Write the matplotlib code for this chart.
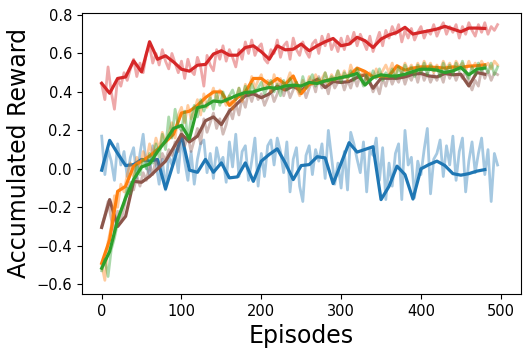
import matplotlib
matplotlib.use("Agg")
import matplotlib.pyplot as plt
import numpy as np

# episodes for the raw (faint) curves and for the averaged (bold) curves
raw_eps = np.arange(0, 500, 4)
avg_eps = np.arange(0, 490, 10)

blue_raw = [0.17, -0.03, 0.10, 0.04, -0.06, 0.13, 0.02, 0.09, -0.04, 0.06, 0.11, -0.05, 0.08, 0.18, 0.01, -0.03, 0.12, 0.03, -0.08, 0.05, -0.11, 0.07, 0.02, 0.10, -0.02,
            0.17, 0.04, -0.06, 0.09, -0.08, 0.05, 0.13, 0.15, -0.02, 0.08, -0.05, 0.11, 0.03, 0.06, -0.07, 0.14, 0.01, 0.18, -0.04, 0.09, 0.12, -0.06, 0.04, 0.16, -0.09,
            0.08, -0.04, 0.12, 0.15, 0.02, 0.16, 0.09, -0.02, 0.14, -0.12, 0.05, 0.11, -0.09, -0.17, 0.07, 0.12, -0.03, 0.10, 0.04, 0.13, -0.05, 0.20, 0.06, -0.08, 0.03,
            -0.10, 0.09, -0.11, 0.19, 0.13, 0.05, -0.02, 0.14, -0.12, 0.10, 0.07, 0.16, -0.06, 0.11, -0.16, 0.03, -0.09, 0.08, 0.13, -0.16, 0.20, 0.02, 0.06, -0.15, 0.04,
            -0.03, 0.10, 0.21, -0.13, 0.05, 0.08, 0.15, -0.04, 0.12, 0.02, 0.17, -0.06, 0.09, 0.16, -0.12, 0.04, 0.14, -0.02, 0.08, 0.16, -0.03, 0.10, -0.17, 0.08, 0.02]
red_raw = [0.44, 0.36, 0.53, 0.40, 0.31, 0.47, 0.43, 0.50, 0.46, 0.52, 0.57, 0.48, 0.55, 0.50, 0.60, 0.64, 0.55, 0.60, 0.54, 0.62, 0.56, 0.52, 0.60, 0.55, 0.50,
           0.56, 0.47, 0.57, 0.51, 0.49, 0.58, 0.53, 0.43, 0.59, 0.54, 0.51, 0.62, 0.57, 0.64, 0.56, 0.62, 0.58, 0.53, 0.62, 0.57, 0.66, 0.60, 0.67, 0.59, 0.63,
           0.65, 0.57, 0.55, 0.62, 0.60, 0.67, 0.58, 0.64, 0.66, 0.57, 0.68, 0.62, 0.59, 0.66, 0.61, 0.58, 0.65, 0.67, 0.60, 0.69, 0.64, 0.70, 0.62, 0.66, 0.61,
           0.68, 0.62, 0.69, 0.65, 0.71, 0.64, 0.70, 0.66, 0.62, 0.69, 0.61, 0.66, 0.71, 0.64, 0.72, 0.68, 0.74, 0.70, 0.75, 0.66, 0.72, 0.68, 0.73, 0.67, 0.71,
           0.74, 0.68, 0.72, 0.70, 0.75, 0.69, 0.73, 0.76, 0.70, 0.74, 0.71, 0.75, 0.68, 0.74, 0.70, 0.76, 0.72, 0.69, 0.75, 0.71, 0.76, 0.70, 0.74, 0.72, 0.75]
orange_raw = [-0.50, -0.58, -0.38, -0.30, -0.14, -0.20, -0.08, -0.12, -0.03, 0.03, -0.04, 0.06, 0.00, 0.09, 0.04, 0.13, 0.07, 0.16, 0.10, 0.19, 0.14, 0.18, 0.24, 0.16, 0.28,
              0.32, 0.24, 0.33, 0.26, 0.30, 0.36, 0.28, 0.39, 0.32, 0.37, 0.42, 0.35, 0.41, 0.37, 0.33, 0.38, 0.31, 0.36, 0.42, 0.35, 0.44, 0.39, 0.48, 0.42, 0.46,
              0.49, 0.42, 0.46, 0.40, 0.49, 0.43, 0.47, 0.41, 0.45, 0.50, 0.44, 0.42, 0.38, 0.46, 0.42, 0.48, 0.44, 0.49, 0.45, 0.47, 0.50, 0.44, 0.49, 0.46, 0.51,
              0.47, 0.51, 0.46, 0.54, 0.49, 0.52, 0.47, 0.51, 0.46, 0.50, 0.47, 0.52, 0.48, 0.51, 0.54, 0.50, 0.55, 0.49, 0.53, 0.50, 0.55, 0.51, 0.54, 0.50, 0.55,
              0.51, 0.56, 0.52, 0.55, 0.50, 0.54, 0.51, 0.56, 0.52, 0.55, 0.51, 0.56, 0.53, 0.55, 0.51, 0.56, 0.52, 0.55, 0.52, 0.56, 0.53, 0.55, 0.52, 0.56, 0.54]
green_raw = [-0.53, -0.47, -0.56, -0.42, -0.36, -0.28, -0.22, -0.18, -0.10, -0.13, -0.05, 0.02, -0.03, 0.05, 0.00, 0.08, 0.03, 0.13, 0.06, 0.18, 0.10, 0.27, 0.16, 0.31, 0.22,
             0.20, 0.30, 0.15, 0.26, 0.33, 0.27, 0.36, 0.30, 0.34, 0.37, 0.31, 0.39, 0.33, 0.40, 0.35, 0.38, 0.41, 0.36, 0.42, 0.37, 0.43, 0.38, 0.44, 0.40, 0.42,
             0.45, 0.39, 0.43, 0.46, 0.40, 0.44, 0.38, 0.46, 0.41, 0.47, 0.42, 0.45, 0.40, 0.48, 0.42, 0.46, 0.49, 0.43, 0.47, 0.44, 0.50, 0.45, 0.48, 0.46, 0.51,
             0.45, 0.50, 0.47, 0.51, 0.46, 0.52, 0.48, 0.43, 0.49, 0.45, 0.51, 0.47, 0.52, 0.46, 0.50, 0.48, 0.52, 0.47, 0.53, 0.49, 0.54, 0.50, 0.53, 0.48, 0.54,
             0.50, 0.55, 0.49, 0.54, 0.51, 0.53, 0.48, 0.55, 0.50, 0.54, 0.49, 0.55, 0.51, 0.56, 0.50, 0.47, 0.53, 0.49, 0.55, 0.51, 0.54, 0.50, 0.55, 0.49, 0.53]
brown_raw = [-0.30, -0.24, -0.17, -0.26, -0.33, -0.22, -0.28, -0.20, -0.12, -0.07, -0.11, -0.04, -0.09, -0.02, -0.06, 0.02, -0.03, 0.05, 0.00, 0.08, 0.04, 0.10, 0.07, 0.14, 0.09,
             0.20, 0.12, 0.17, 0.09, 0.15, 0.21, 0.13, 0.26, 0.19, 0.24, 0.29, 0.21, 0.26, 0.18, 0.23, 0.31, 0.26, 0.34, 0.28, 0.37, 0.32, 0.40, 0.35, 0.41, 0.36,
             0.39, 0.33, 0.37, 0.41, 0.35, 0.39, 0.44, 0.38, 0.43, 0.37, 0.41, 0.45, 0.39, 0.43, 0.37, 0.42, 0.46, 0.40, 0.48, 0.42, 0.45, 0.39, 0.47, 0.42, 0.45,
             0.47, 0.41, 0.46, 0.42, 0.48, 0.43, 0.49, 0.44, 0.50, 0.45, 0.40, 0.44, 0.39, 0.47, 0.43, 0.49, 0.44, 0.48, 0.45, 0.50, 0.44, 0.49, 0.46, 0.51, 0.45,
             0.52, 0.46, 0.50, 0.45, 0.49, 0.46, 0.50, 0.45, 0.52, 0.47, 0.51, 0.46, 0.50, 0.47, 0.51, 0.45, 0.41, 0.46, 0.43, 0.52, 0.47, 0.51, 0.46, 0.50, 0.49]

blue_avg = [-0.007, 0.148, 0.08, 0.017, 0.022, 0.049, 0.040, 0.049, -0.104, 0.031,
            0.174, -0.007, -0.018, 0.049, -0.018, 0.031, -0.047, -0.042, 0.031, -0.065,
            0.040, 0.075, 0.104, 0.031, -0.056, 0.017, 0.022, 0.063, 0.057, -0.077,
            0.029, 0.136, 0.087, 0.101, 0.115, -0.160, -0.091, 0.014, -0.030, -0.157,
            0.0, 0.022, 0.040, 0.017, -0.025, -0.033, -0.025, -0.012, -0.004]
red_avg = [0.445, 0.393, 0.470, 0.478, 0.562, 0.504, 0.661, 0.570, 0.588, 0.556,
           0.518, 0.508, 0.539, 0.543, 0.597, 0.614, 0.591, 0.591, 0.631, 0.640,
           0.609, 0.570, 0.640, 0.619, 0.622, 0.649, 0.614, 0.640, 0.661, 0.678,
           0.640, 0.649, 0.684, 0.666, 0.631, 0.675, 0.696, 0.710, 0.736, 0.701,
           0.710, 0.718, 0.727, 0.741, 0.727, 0.713, 0.732, 0.732, 0.730]
orange_avg = [-0.491, -0.369, -0.117, -0.091, 0.014, 0.040, 0.066, 0.101, 0.14, 0.18,
              0.29, 0.30, 0.33, 0.37, 0.40, 0.40, 0.33, 0.37, 0.40, 0.47,
              0.47, 0.44, 0.47, 0.44, 0.483, 0.391, 0.440, 0.450, 0.458, 0.466,
              0.475, 0.483, 0.524, 0.506, 0.478, 0.483, 0.483, 0.536, 0.513, 0.524,
              0.530, 0.530, 0.527, 0.524, 0.530, 0.527, 0.534, 0.536, 0.541]
green_avg = [-0.517, -0.43, -0.265, -0.151, -0.056, 0.01, 0.025, 0.09, 0.145, 0.21,
             0.226, 0.157, 0.318, 0.327, 0.353, 0.348, 0.365, 0.383, 0.397, 0.400,
             0.414, 0.423, 0.418, 0.431, 0.435, 0.431, 0.449, 0.444, 0.457, 0.466,
             0.475, 0.483, 0.496, 0.436, 0.475, 0.489, 0.483, 0.483, 0.492, 0.506,
             0.518, 0.518, 0.513, 0.501, 0.509, 0.527, 0.489, 0.518, 0.524]
brown_avg = [-0.305, -0.160, -0.30, -0.247, -0.065, -0.07, -0.04, 0.00, 0.04, 0.11,
             0.18, 0.14, 0.17, 0.25, 0.27, 0.23, 0.30, 0.34, 0.38, 0.39,
             0.37, 0.39, 0.43, 0.41, 0.43, 0.405, 0.440, 0.466, 0.423, 0.454,
             0.449, 0.454, 0.475, 0.49, 0.419, 0.471, 0.471, 0.471, 0.478, 0.492,
             0.496, 0.483, 0.478, 0.496, 0.489, 0.492, 0.431, 0.501, 0.492]

series = [
    (blue_raw, blue_avg, "tab:blue"),
    (red_raw, red_avg, "tab:red"),
    (brown_raw, brown_avg, "tab:brown"),
    (orange_raw, orange_avg, "tab:orange"),
    (green_raw, green_avg, "tab:green"),
]

fig = plt.figure(figsize=(5.32, 3.54), dpi=100)
ax = fig.add_axes([0.1536, 0.1695, 0.8252, 0.7946])

for raw, avg, c in series:
    ax.plot(raw_eps, raw, color=c, alpha=0.4, lw=2.0)
    ax.plot(avg_eps, avg, color=c, lw=2.3)

ax.set_xlim(-25, 525)
ax.set_ylim(-0.651, 0.812)
ax.set_xticks([0, 100, 200, 300, 400, 500])
ax.set_yticks([-0.6, -0.4, -0.2, 0.0, 0.2, 0.4, 0.6, 0.8])
ax.tick_params(labelsize=10.5)
ax.set_xlabel("Episodes", fontsize=17)
ax.set_ylabel("Accumulated Reward", fontsize=17)

fig.savefig("out.png", dpi=100)
